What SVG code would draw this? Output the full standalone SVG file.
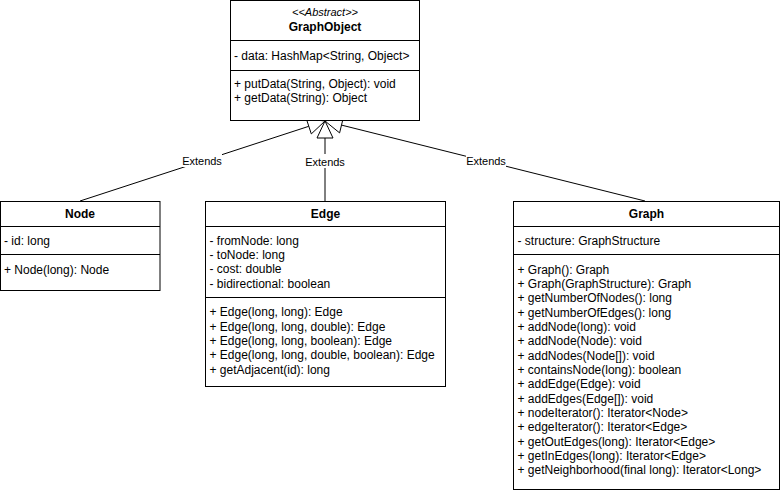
<svg xmlns="http://www.w3.org/2000/svg" width="781" height="491" viewBox="0 0 781 491">
<style>
text{font-family:"Liberation Sans",Arial,Helvetica,sans-serif;font-size:12px;fill:#000}
.box{fill:#fff;stroke:#000;stroke-width:1}
.div{stroke:#000;stroke-width:1}
.hd{font-weight:bold;text-anchor:middle}
.ab{font-style:italic;text-anchor:middle;font-size:11px}
.conn{fill:none;stroke:#000;stroke-width:1}
.tri{fill:#fff;stroke:#000;stroke-width:1}
.lbl{font-size:11px;text-anchor:middle}
.lblbg{fill:#fff}
</style>
<rect width="781" height="491" fill="#fff"/>
<g id="connectors">
<line class="conn" x1="80" y1="201" x2="308.8" y2="126.3"/>
<line class="conn" x1="325" y1="201" x2="325" y2="138"/>
<line class="conn" x1="645" y1="201" x2="341.5" y2="125.1"/>
<polygon class="tri" points="325,121 311.3,133.9 306.3,118.7"/>
<polygon class="tri" points="325,121 333,138 317,138"/>
<polygon class="tri" points="325,121 343.4,117.3 339.6,132.9"/>
<rect class="lblbg" x="182" y="153" width="40" height="14"/>
<text class="lbl" x="202" y="164.5">Extends</text>
<rect class="lblbg" x="305" y="154" width="40" height="14"/>
<text class="lbl" x="325" y="165.5">Extends</text>
<rect class="lblbg" x="466" y="153" width="40" height="14"/>
<text class="lbl" x="486" y="164.5">Extends</text>
</g>
<g id="GraphObject">
<rect class="box" x="230.5" y="0.5" width="189" height="120"/>
<line class="div" x1="230.5" y1="40.5" x2="419.5" y2="40.5"/>
<line class="div" x1="230.5" y1="70.5" x2="419.5" y2="70.5"/>
<text class="ab" x="325" y="16">&lt;&lt;Abstract&gt;&gt;</text>
<text class="hd" x="325" y="30.5">GraphObject</text>
<text x="234" y="60">- data: HashMap&lt;String, Object&gt;</text>
<text x="234" y="87.5">+ putData(String, Object): void</text>
<text x="234" y="101.9">+ getData(String): Object</text>
</g>
<g id="Node">
<rect class="box" x="0.5" y="201.5" width="159.5" height="89"/>
<line class="div" x1="0.5" y1="226.5" x2="160" y2="226.5"/>
<line class="div" x1="0.5" y1="254.5" x2="160" y2="254.5"/>
<text class="hd" x="80" y="217.5">Node</text>
<text x="4" y="244.5">- id: long</text>
<text x="4" y="273.5">+ Node(long): Node</text>
</g>
<g id="Edge">
<rect class="box" x="205.5" y="201.5" width="240" height="185"/>
<line class="div" x1="205.5" y1="226.5" x2="445.5" y2="226.5"/>
<line class="div" x1="205.5" y1="297.5" x2="445.5" y2="297.5"/>
<text class="hd" x="325.5" y="217.5">Edge</text>
<text x="209.5" y="244.5">- fromNode: long</text>
<text x="209.5" y="258.9">- toNode: long</text>
<text x="209.5" y="273.2">- cost: double</text>
<text x="209.5" y="287.6">- bidirectional: boolean</text>
<text x="209.5" y="316.3">+ Edge(long, long): Edge</text>
<text x="209.5" y="330.6">+ Edge(long, long, double): Edge</text>
<text x="209.5" y="345">+ Edge(long, long, boolean): Edge</text>
<text x="209.5" y="359.3">+ Edge(long, long, double, boolean): Edge</text>
<text x="209.5" y="373.7">+ getAdjacent(id): long</text>
</g>
<g id="Graph">
<rect class="box" x="513.5" y="201.5" width="266" height="288"/>
<line class="div" x1="513.5" y1="226.5" x2="779.5" y2="226.5"/>
<line class="div" x1="513.5" y1="254.5" x2="779.5" y2="254.5"/>
<text class="hd" x="646.5" y="217.5">Graph</text>
<text x="517.5" y="244.5">- structure: GraphStructure</text>
<text x="517.5" y="273.5">+ Graph(): Graph</text>
<text x="517.5" y="287.8">+ Graph(GraphStructure): Graph</text>
<text x="517.5" y="302.2">+ getNumberOfNodes(): long</text>
<text x="517.5" y="316.5">+ getNumberOfEdges(): long</text>
<text x="517.5" y="330.9">+ addNode(long): void</text>
<text x="517.5" y="345.2">+ addNode(Node): void</text>
<text x="517.5" y="359.6">+ addNodes(Node[]): void</text>
<text x="517.5" y="373.9">+ containsNode(long): boolean</text>
<text x="517.5" y="388.3">+ addEdge(Edge): void</text>
<text x="517.5" y="402.6">+ addEdges(Edge[]): void</text>
<text x="517.5" y="417">+ nodeIterator(): Iterator&lt;Node&gt;</text>
<text x="517.5" y="431.3">+ edgeIterator(): Iterator&lt;Edge&gt;</text>
<text x="517.5" y="445.7">+ getOutEdges(long): Iterator&lt;Edge&gt;</text>
<text x="517.5" y="460">+ getInEdges(long): Iterator&lt;Edge&gt;</text>
<text x="517.5" y="474.4">+ getNeighborhood(final long): Iterator&lt;Long&gt;</text>
</g>
</svg>
